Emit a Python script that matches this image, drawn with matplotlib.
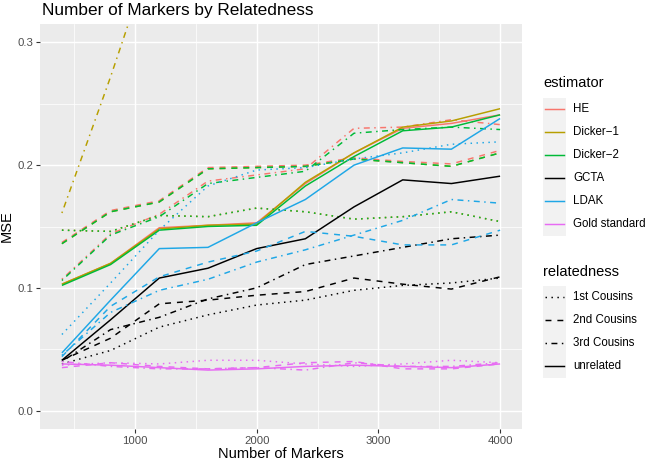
import matplotlib
matplotlib.use("Agg")
import matplotlib.pyplot as plt
from matplotlib.lines import Line2D
from matplotlib.patches import Rectangle

W, H = 648, 462

markers = [400, 800, 1200, 1600, 2000, 2400, 2800, 3200, 3600, 4000]
relatedness = ["1st Cousins", "2nd Cousins", "3rd Cousins", "unrelated"]
estimators = ["HE", "Dicker\u22121", "Dicker\u22122", "GCTA", "LDAK", "Gold standard"]

# MSE per estimator, one list per relatedness level (same order as `relatedness`)
he = [
    [0.147, 0.146, 0.159, 0.158, 0.165, 0.162, 0.156, 0.158, 0.162, 0.154],
    [0.137, 0.163, 0.171, 0.198, 0.199, 0.200, 0.206, 0.203, 0.201, 0.212],
    [0.107, 0.144, 0.160, 0.187, 0.192, 0.197, 0.230, 0.231, 0.237, 0.233],
    [0.103, 0.120, 0.149, 0.151, 0.153, 0.185, 0.210, 0.230, 0.234, 0.241],
]
dicker1 = [
    [0.147, 0.146, 0.159, 0.158, 0.165, 0.162, 0.156, 0.158, 0.162, 0.154],
    [0.136, 0.162, 0.170, 0.197, 0.198, 0.199, 0.205, 0.202, 0.199, 0.210],
    [0.161, 0.272, 0.390, 0.450, 0.520, 0.600, 0.660, 0.720, 0.780, 0.840],
    [0.103, 0.120, 0.148, 0.151, 0.152, 0.186, 0.210, 0.231, 0.236, 0.246],
]
dicker2 = [
    [0.147, 0.146, 0.159, 0.158, 0.165, 0.162, 0.156, 0.158, 0.162, 0.154],
    [0.136, 0.162, 0.170, 0.197, 0.198, 0.199, 0.205, 0.202, 0.199, 0.210],
    [0.106, 0.143, 0.158, 0.185, 0.190, 0.195, 0.226, 0.229, 0.231, 0.229],
    [0.102, 0.119, 0.147, 0.150, 0.151, 0.183, 0.207, 0.228, 0.231, 0.241],
]
gcta = [
    [0.038, 0.049, 0.068, 0.078, 0.086, 0.090, 0.098, 0.102, 0.104, 0.108],
    [0.041, 0.059, 0.087, 0.090, 0.094, 0.097, 0.108, 0.103, 0.099, 0.109],
    [0.040, 0.066, 0.076, 0.091, 0.100, 0.119, 0.126, 0.133, 0.140, 0.143],
    [0.041, 0.074, 0.108, 0.116, 0.132, 0.140, 0.166, 0.188, 0.185, 0.191],
]
ldak = [
    [0.062, 0.104, 0.147, 0.183, 0.196, 0.198, 0.205, 0.210, 0.217, 0.219],
    [0.044, 0.085, 0.109, 0.121, 0.130, 0.146, 0.142, 0.135, 0.135, 0.147],
    [0.045, 0.080, 0.098, 0.107, 0.121, 0.131, 0.143, 0.155, 0.172, 0.169],
    [0.047, 0.090, 0.132, 0.133, 0.153, 0.172, 0.200, 0.214, 0.213, 0.238],
]
gold = [
    [0.037, 0.039, 0.038, 0.041, 0.041, 0.038, 0.036, 0.038, 0.041, 0.039],
    [0.035, 0.039, 0.036, 0.034, 0.035, 0.039, 0.040, 0.034, 0.034, 0.038],
    [0.040, 0.036, 0.034, 0.034, 0.035, 0.033, 0.039, 0.036, 0.036, 0.039],
    [0.038, 0.037, 0.035, 0.033, 0.034, 0.036, 0.037, 0.036, 0.035, 0.038],
]
series = [he, dicker1, dicker2, gcta, ldak, gold]

colors = ["#F8766D", "#B79F00", "#00BA38", "#000000", "#1FA7E6", "#E76BF3"]
styles = [(0, (1, 3)), (0, (4, 4)), (0, (1, 3, 4, 3)), "-"]
LW = 1.07

plt.rcParams["font.family"] = ["Liberation Sans", "DejaVu Sans"]


def fx(px):
    return px / W


def fy(py):
    return 1 - py / H


fig = plt.figure(figsize=(W / 100, H / 100), dpi=100)
ax = fig.add_axes([fx(40), fy(429), fx(522) - fx(40), fy(24) - fy(429)])
ax.set_facecolor("#EBEBEB")
for s in ax.spines.values():
    s.set_visible(False)

for est, col in zip(series, colors):
    for vals, ls in zip(est, styles):
        ax.plot(markers, vals, color=col, linestyle=ls, linewidth=LW,
                solid_capstyle="butt", dash_capstyle="butt", zorder=3)

ax.set_xlim(220, 4180)
ax.set_ylim(-0.015, 0.315)
ax.set_xticks([1000, 2000, 3000, 4000])
ax.set_xticks([500, 1500, 2500, 3500], minor=True)
ax.set_yticks([0.0, 0.1, 0.2, 0.3])
ax.set_yticks([0.05, 0.15, 0.25], minor=True)
ax.set_yticklabels(["0.0", "0.1", "0.2", "0.3"])
ax.grid(True, which="major", color="white", linewidth=1.07, zorder=1)
ax.grid(True, which="minor", color="white", linewidth=0.53, zorder=1)
ax.set_axisbelow(True)
ax.tick_params(which="major", length=2.7, width=0.8, color="#333333",
               labelsize=8.2, labelcolor="#4D4D4D", pad=2)
ax.tick_params(which="minor", length=0)

ax.set_xlabel("Number of Markers", fontsize=10.5, labelpad=1)
ax.set_ylabel("MSE", fontsize=10.5, labelpad=3)
fig.text(fx(42), fy(11), "Number of Markers by Relatedness", fontsize=12.4,
         ha="left", va="center")


def legend_block(title, title_y, labels, key_colors, key_styles, first_y):
    fig.text(fx(543), fy(title_y), title, fontsize=10.5, ha="left", va="center")
    top = first_y - 11.5
    fig.patches.append(Rectangle((fx(543), fy(top + 23 * len(labels))),
                                 fx(566) - fx(543), fy(top) - fy(top + 23 * len(labels)),
                                 transform=fig.transFigure, facecolor="#F2F2F2",
                                 edgecolor="none", zorder=0))
    for i, (lab, c, ls) in enumerate(zip(labels, key_colors, key_styles)):
        yy = first_y + 23 * i
        fig.lines.append(Line2D([fx(545), fx(564)], [fy(yy), fy(yy)],
                                transform=fig.transFigure, color=c,
                                linestyle=ls, linewidth=LW))
        fig.text(fx(573), fy(yy), lab, fontsize=8.3, ha="left", va="center")


legend_block("estimator", 83, estimators, colors, ["-"] * 6, 109)
legend_block("relatedness", 272, relatedness, ["black"] * 4, styles, 297)

fig.savefig("out.png", dpi=100)
